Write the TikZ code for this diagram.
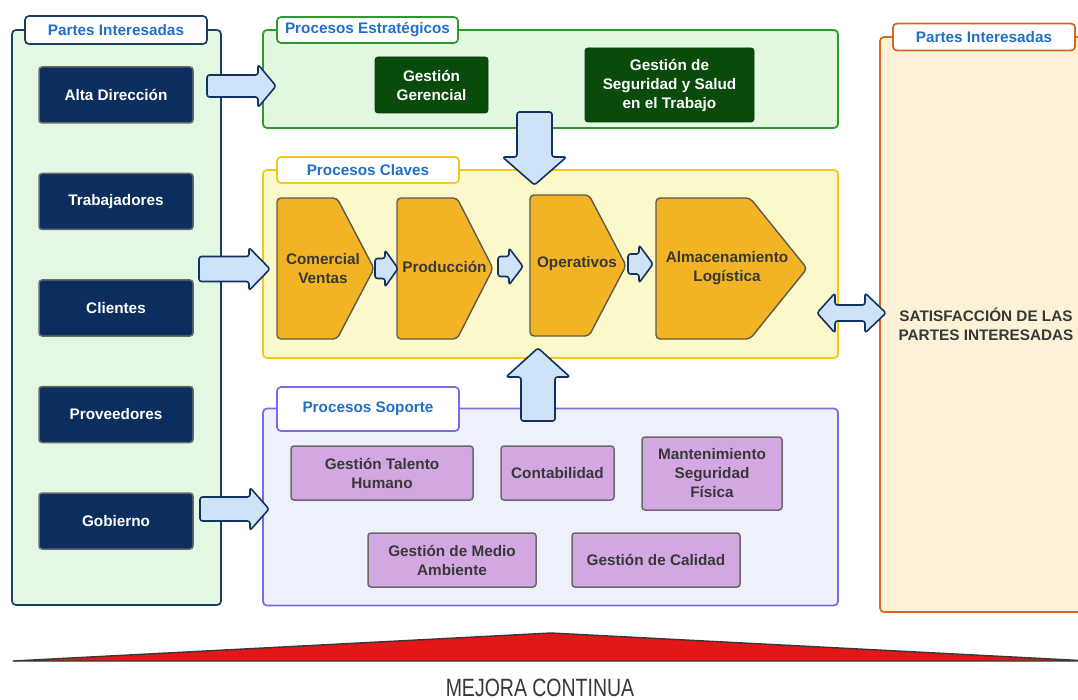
\documentclass[tikz,border=0pt]{standalone}
\usepackage{fontspec}
\setmainfont{Liberation Sans}
\definecolor{leftfill}{HTML}{E3F8E3}
\definecolor{leftborder}{HTML}{1A3D66}
\definecolor{navyfill}{HTML}{0B2E5E}
\definecolor{boxgray}{HTML}{6A6A6A}
\definecolor{tabblue}{HTML}{2170C8}
\definecolor{strfill}{HTML}{E2F7E0}
\definecolor{strborder}{HTML}{2E9A2E}
\definecolor{dkgreen}{HTML}{0A4A0A}
\definecolor{clvfill}{HTML}{FBF9C9}
\definecolor{clvborder}{HTML}{F5C518}
\definecolor{chevfill}{HTML}{F2B425}
\definecolor{chevborder}{HTML}{5E5A50}
\definecolor{supfill}{HTML}{EEF0FB}
\definecolor{supborder}{HTML}{7A6CE8}
\definecolor{purfill}{HTML}{D3A8E2}
\definecolor{rightfill}{HTML}{FDF1D8}
\definecolor{rightborder}{HTML}{D2691E}
\definecolor{arrfill}{HTML}{CFE3F8}
\definecolor{arrborder}{HTML}{12335E}
\definecolor{redfill}{HTML}{E31717}
\definecolor{darktext}{HTML}{383838}
\newcommand\mybf{\bfseries\fontsize{15.3}{19}\selectfont}
\newcommand\rblk[6]{\draw[blk] (#1,{#4-#5}) -- (#2,{#4-#5}) -- (#2,{#4-#6}) -- (#3,#4) -- (#2,{#4+#6}) -- (#2,{#4+#5}) -- (#1,{#4+#5}) -- cycle;}
\newcommand\vblk[6]{\draw[blk] ({#1-#5},#2) -- ({#1-#5},#3) -- ({#1-#6},#3) -- (#1,#4) -- ({#1+#6},#3) -- ({#1+#5},#3) -- ({#1+#5},#2) -- cycle;}
\begin{document}
\begin{tikzpicture}[x=1pt,y=-1pt,
  cont/.style={draw, line width=1.7pt, rounded corners=4pt, inner sep=0pt},
  tab/.style={draw, fill=white, line width=1.7pt, rounded corners=4pt, inner sep=0pt, font=\mybf, text=tabblue},
  navy/.style={fill=navyfill, draw=boxgray, line width=1.5pt, rounded corners=3pt, text=white, font=\mybf, align=center, inner sep=0pt, minimum width=154pt, minimum height=56pt},
  green/.style={fill=dkgreen, draw=dkgreen!80!black, line width=0.8pt, rounded corners=3pt, text=white, font=\mybf, align=center, inner sep=0pt},
  pur/.style={fill=purfill, draw=boxgray, line width=1.5pt, rounded corners=3pt, text=darktext, font=\mybf, align=center, inner sep=0pt},
  chev/.style={fill=chevfill, draw=chevborder, line width=1.4pt, rounded corners=4pt},
  lbl/.style={text=darktext, font=\mybf, align=center, inner sep=0pt},
  blk/.style={fill=arrfill, draw=arrborder, line width=1.6pt, rounded corners=2.5pt, line join=round}]
\useasboundingbox (0,0) rectangle (1078,700);
\clip (0,0) rectangle (1078,700);
\fill[white] (0,0) rectangle (1078,700);

% containers
\node[cont, draw=leftborder, fill=leftfill, minimum width=209pt, minimum height=575pt] (left) at (116.5,317.5) {};
\node[cont, draw=strborder, fill=strfill, minimum width=575pt, minimum height=98pt] (str) at (550.5,79) {};
\node[cont, draw=clvborder, fill=clvfill, minimum width=575pt, minimum height=188pt] (clv) at (550.5,264) {};
\node[cont, draw=supborder, fill=supfill, minimum width=575pt, minimum height=197pt] (sup) at (550.5,507) {};
\node[cont, draw=rightborder, fill=rightfill, minimum width=220pt, minimum height=575pt] (right) at (990,324.5) {};

% tabs
\node[tab, draw=leftborder, minimum width=182pt, minimum height=28pt] (lefttab) at (116,30) {Partes Interesadas};
\node[tab, draw=strborder, minimum width=181pt, minimum height=26pt] (strtab) at (367.5,30) {Procesos Estratégicos};
\node[tab, draw=clvborder, minimum width=182pt, minimum height=26pt] (clvtab) at (368,170) {Procesos Claves};
\node[tab, draw=supborder, minimum width=182pt, minimum height=44pt] (suptab) at (368,409) {Procesos Soporte};
\node[tab, draw=rightborder, minimum width=182pt, minimum height=27pt] (righttab) at (984,37) {Partes Interesadas};

% stakeholders
\node[navy] (alta) at (116,95) {Alta Dirección};
\node[navy] (trab) at (116,201.5) {Trabajadores};
\node[navy] (cli) at (116,308) {Clientes};
\node[navy] (prov) at (116,414.5) {Proveedores};
\node[navy] (gob) at (116,521) {Gobierno};

% strategic
\node[green, minimum width=113pt, minimum height=56pt] (gg) at (431.5,85) {Gestión\\Gerencial};
\node[green, minimum width=169pt, minimum height=74pt] (gss) at (669.5,85) {Gestión de\\Seguridad y Salud\\en el Trabajo};

% key process chevrons
\draw[chev] (277,198) -- (337,198) -- (374,268.5) -- (337,339) -- (277,339) -- cycle;
\draw[chev] (397,198) -- (457,198) -- (493,268.5) -- (457,339) -- (397,339) -- cycle;
\draw[chev] (530,195) -- (589,195) -- (626,265.5) -- (589,336) -- (530,336) -- cycle;
\draw[chev] (656,198) -- (750,198) -- (807,268.5) -- (750,339) -- (656,339) -- cycle;
\node[lbl] (com) at (323,268.5) {Comercial\\Ventas};
\node[lbl] (prod) at (444.5,267) {Producción};
\node[lbl] (oper) at (577,264) {Operativos};
\node[lbl] (alm) at (727,268.5) {Almacenamiento\\Logística};

% support
\node[pur, minimum width=182pt, minimum height=54pt] (gth) at (382,473) {Gestión Talento\\Humano};
\node[pur, minimum width=113pt, minimum height=54pt] (cont) at (557.5,473) {Contabilidad};
\node[pur, minimum width=140pt, minimum height=73pt] (mant) at (712,473.5) {Mantenimiento\\Seguridad\\Física};
\node[pur, minimum width=168pt, minimum height=54pt] (gma) at (452,560) {Gestión de Medio\\Ambiente};
\node[pur, minimum width=168pt, minimum height=54pt] (cal) at (656,560) {Gestión de Calidad};

% block arrows
\rblk{207}{258}{276}{86}{11}{21.5}
\rblk{199}{249}{270}{269}{12.5}{21.5}
\rblk{200}{250}{269}{509}{12}{21.5}
\rblk{375}{385}{398}{268.5}{10}{18.5}
\rblk{498}{509}{523}{266.5}{10}{18.5}
\rblk{628}{639}{653}{264}{10}{19}
\vblk{534.5}{112}{157}{185}{17.5}{32}
\vblk{538}{421}{377}{348}{17}{32}
\draw[blk] (817,313) -- (835,293) -- (835,305) -- (865,305) -- (865,293) -- (886,313) -- (865,333) -- (865,321) -- (835,321) -- (835,333) -- cycle;

\node[lbl, font=\mybf] (sat) at (986,324.5) {SATISFACCIÓN DE LAS\\PARTES INTERESADAS};

% continuous improvement
\draw[fill=redfill, draw=darktext, line width=1.4pt, line join=round] (13,661) -- (551,633) -- (1090,661) -- cycle;
\node[text=darktext, inner sep=0pt, font=\fontsize{25}{28}\selectfont] (mejora) at (540,688) {\scalebox{0.78}[1]{MEJORA CONTINUA}};
\end{tikzpicture}
\end{document}
